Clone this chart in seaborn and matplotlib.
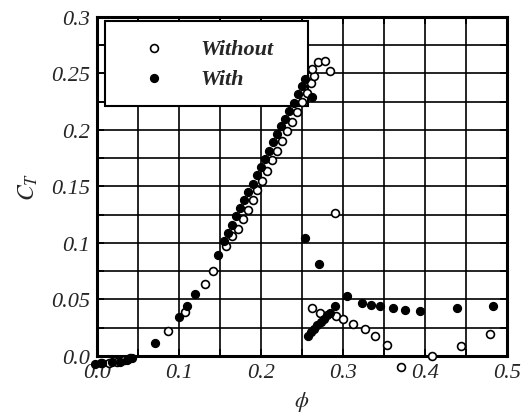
import matplotlib
matplotlib.use('Agg')
import matplotlib.pyplot as plt
import pandas as pd
import seaborn as sns
from matplotlib.ticker import MultipleLocator, FixedLocator

# Valores (phi, C_T)
phi_sem = [0.005, 0.015, 0.025, 0.033, 0.040, 0.087, 0.107, 0.132, 0.142, 0.158,
           0.165, 0.172, 0.178, 0.184, 0.190, 0.196, 0.202, 0.208, 0.214, 0.220,
           0.226, 0.232, 0.238, 0.244, 0.250, 0.256, 0.261, 0.265, 0.263, 0.270,
           0.278, 0.284, 0.291, 0.262, 0.272, 0.292, 0.300, 0.312, 0.327, 0.339,
           0.354, 0.371, 0.409, 0.444, 0.479]
ct_sem = [-0.006, -0.006, -0.005, -0.004, -0.002, 0.022, 0.039, 0.064, 0.075, 0.097,
          0.106, 0.112, 0.121, 0.129, 0.138, 0.147, 0.155, 0.164, 0.173, 0.181,
          0.190, 0.199, 0.207, 0.216, 0.225, 0.233, 0.241, 0.248, 0.254, 0.260,
          0.261, 0.252, 0.126, 0.042, 0.038, 0.035, 0.033, 0.028, 0.024, 0.018,
          0.010, -0.010, 0.000, 0.009, 0.019]

phi_com = [-0.002, 0.007, 0.018, 0.028, 0.037, 0.043, 0.071, 0.100, 0.110, 0.120,
           0.148, 0.155, 0.160, 0.165, 0.170, 0.175, 0.180, 0.185, 0.190, 0.195,
           0.200, 0.205, 0.210, 0.215, 0.220, 0.225, 0.230, 0.235, 0.240, 0.245,
           0.250, 0.254, 0.263, 0.254, 0.271, 0.291, 0.305, 0.323, 0.335, 0.345,
           0.361, 0.376, 0.394, 0.439, 0.483, 0.257, 0.261, 0.265, 0.269, 0.273,
           0.277, 0.281, 0.285]
ct_com = [-0.007, -0.006, -0.005, -0.005, -0.004, -0.002, 0.0115, 0.0345, 0.044, 0.055,
          0.089, 0.102, 0.109, 0.116, 0.124, 0.131, 0.138, 0.145, 0.152, 0.160,
          0.167, 0.174, 0.181, 0.189, 0.196, 0.203, 0.210, 0.217, 0.224, 0.232,
          0.239, 0.245, 0.229, 0.104, 0.081, 0.044, 0.053, 0.047, 0.045, 0.044,
          0.042, 0.041, 0.040, 0.042, 0.044, 0.018, 0.021, 0.024, 0.027, 0.030,
          0.033, 0.036, 0.038]

df_sem = pd.DataFrame({'phi': phi_sem, 'CT': ct_sem})
df_com = pd.DataFrame({'phi': phi_com, 'CT': ct_com})

sns.set_style('white')
plt.rcParams['font.family'] = ['Liberation Serif', 'DejaVu Serif']
plt.rcParams['mathtext.fontset'] = 'stix'

fig = plt.figure(figsize=(5.23, 4.14), dpi=100)
ax = fig.add_axes([0.185, 0.138, 0.784, 0.819])

sns.scatterplot(data=df_sem, x='phi', y='CT', ax=ax, marker='o', s=32,
                facecolor='white', edgecolor='black', linewidth=1.2,
                label='Without', clip_on=False, zorder=4)
sns.scatterplot(data=df_com, x='phi', y='CT', ax=ax, marker='o', s=32,
                color='black', edgecolor='black', linewidth=1.0,
                label='With', clip_on=False, zorder=4)

ax.set_xlim(0, 0.5)
ax.set_ylim(0, 0.3)
ax.xaxis.set_major_locator(FixedLocator([0.0, 0.1, 0.2, 0.3, 0.4, 0.5]))
ax.set_xticklabels(['0.0', '0.1', '0.2', '0.3', '0.4', '0.5'])
ax.yaxis.set_major_locator(FixedLocator([0.0, 0.05, 0.1, 0.15, 0.2, 0.25, 0.3]))
ax.set_yticklabels(['0.0', '0.05', '0.1', '0.15', '0.2', '0.25', '0.3'])
ax.xaxis.set_minor_locator(MultipleLocator(0.05))
ax.yaxis.set_minor_locator(MultipleLocator(0.025))
ax.grid(True, which='both', color='black', linewidth=1.2)
ax.set_axisbelow(True)

ax.tick_params(which='both', direction='in', length=5, width=1.3, color='black',
               top=True, right=True, left=True, bottom=True)
ax.tick_params(labelsize=16, pad=5)
for lab in ax.get_xticklabels() + ax.get_yticklabels():
    lab.set_fontstyle('italic')

for sp in ax.spines.values():
    sp.set_visible(True)
    sp.set_color('black')
    sp.set_linewidth(2.2)

ax.set_xlabel(r'$\phi$', fontsize=16, labelpad=5)
ax.set_ylabel(r'$C_T$', fontsize=17, labelpad=8)

leg = ax.legend(loc='upper left', bbox_to_anchor=(0.02, 0.988, 0.495, 0.0),
                mode='expand', borderaxespad=0, frameon=True, fancybox=False,
                framealpha=1, edgecolor='black', borderpad=0.8, handlelength=2.8,
                handletextpad=0.7, labelspacing=0.4,
                prop={'family': 'Liberation Serif', 'style': 'italic',
                      'weight': 'bold', 'size': 16})
leg.get_frame().set_linewidth(1.5)
leg.set_zorder(3)

fig.savefig('out.png', dpi=100)
